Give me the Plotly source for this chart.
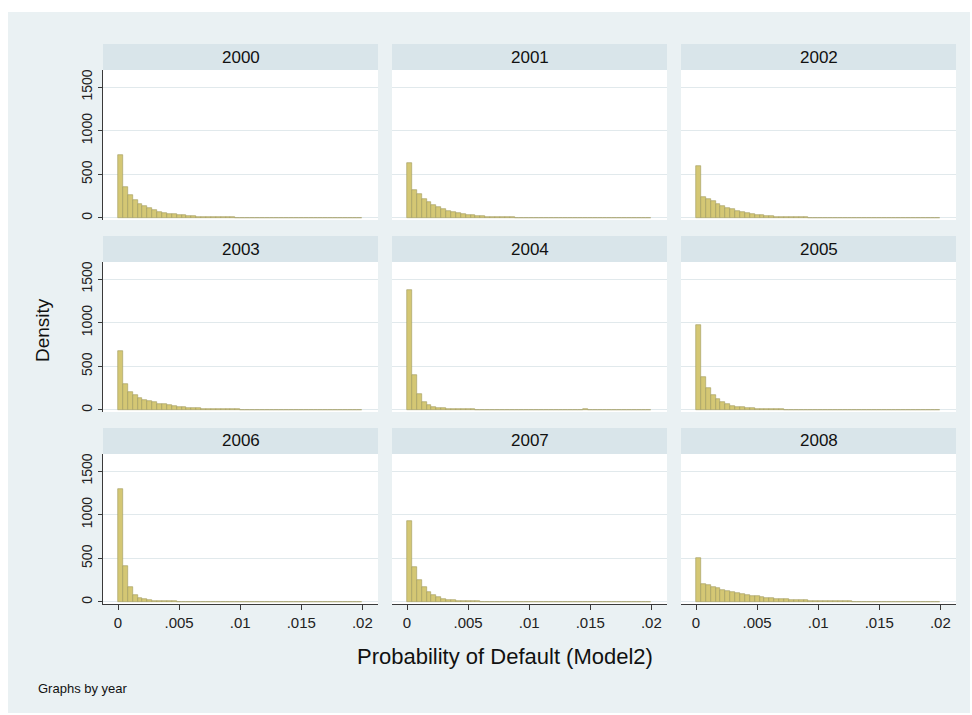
import plotly.graph_objects as go

# ---------------- data ----------------
years = ["2000", "2001", "2002", "2003", "2004", "2005", "2006", "2007", "2008"]
bin_width = 0.0004  # histogram bin width (probability units)

d2000 = [720, 350, 265, 205, 165, 135, 110, 90, 74, 61, 50, 42, 35, 29, 24, 20, 17, 14, 12, 10,
         9, 8, 7, 6, 5, 5, 4, 4, 3, 3, 3, 2, 2, 2, 2, 2, 1, 1, 1, 1, 1, 1, 1, 1, 1, 1, 1, 1, 1, 1]
d2001 = [625, 320, 270, 222, 182, 150, 122, 100, 82, 67, 54, 44, 36, 29, 24, 19, 15, 12, 10, 8,
         7, 6, 5, 4, 4, 3, 3, 2, 2, 2, 2, 1, 1, 1, 1, 1, 1, 1, 1, 1, 1, 1, 1, 1, 1, 1, 1, 1, 1, 1]
d2002 = [595, 240, 215, 190, 165, 140, 118, 98, 82, 68, 56, 46, 38, 31, 25, 20, 16, 13, 11, 9,
         8, 7, 6, 5, 4, 4, 3, 3, 2, 2, 2, 2, 1, 1, 1, 1, 1, 1, 1, 1, 1, 1, 1, 1, 1, 1, 1, 1, 1, 1]
d2003 = [670, 295, 210, 170, 142, 120, 102, 87, 74, 63, 54, 46, 39, 33, 28, 24, 20, 17, 14, 12,
         10, 9, 8, 7, 6, 5, 4, 4, 3, 3, 3, 2, 2, 2, 2, 2, 1, 1, 1, 1, 1, 1, 1, 1, 1, 1, 1, 1, 1, 1]
d2004 = [1375, 405, 178, 95, 58, 38, 27, 20, 15, 12, 10, 8, 7, 6, 5, 5, 4, 4, 3, 3,
         3, 3, 3, 4, 3, 3, 4, 3, 5, 4, 3, 4, 5, 4, 3, 4, 6, 4, 3, 5, 4, 3, 4, 5, 3, 4, 3, 2, 3, 2]
d2005 = [977, 380, 255, 175, 122, 88, 64, 48, 37, 29, 23, 18, 14, 11, 9, 8, 7, 6, 5, 5,
         4, 4, 3, 3, 3, 3, 3, 2, 2, 2, 2, 2, 2, 2, 2, 2, 3, 2, 2, 2, 2, 2, 2, 2, 2, 2, 1, 1, 1, 1]
d2006 = [1298, 418, 171, 82, 47, 30, 21, 15, 11, 9, 7, 6, 5, 4, 4, 3, 3, 3, 2, 2,
         2, 2, 2, 2, 2, 2, 2, 1, 1, 1, 1, 1, 1, 1, 1, 1, 1, 1, 1, 1, 1, 1, 1, 1, 1, 1, 1, 1, 1, 1]
d2007 = [930, 400, 250, 170, 115, 78, 54, 38, 28, 21, 16, 12, 10, 8, 6, 5, 4, 4, 3, 3,
         3, 2, 2, 2, 2, 2, 1, 1, 1, 1, 1, 1, 1, 1, 1, 1, 1, 1, 1, 1, 1, 1, 1, 1, 1, 1, 1, 1, 1, 1]
d2008 = [505, 210, 190, 172, 156, 141, 127, 114, 102, 91, 81, 72, 63, 56, 49, 43, 38, 34, 30, 27,
         24, 21, 19, 17, 15, 13, 12, 10, 9, 8, 7, 6, 5, 5, 4, 4, 3, 3, 3, 2, 2, 2, 2, 1, 1, 1, 1, 1, 1, 1]
densities = [d2000, d2001, d2002, d2003, d2004, d2005, d2006, d2007, d2008]

x_tickvals = [0, 0.005, 0.01, 0.015, 0.02]
x_ticktext = ["0", ".005", ".01", ".015", ".02"]
y_tickvals = [0, 500, 1000, 1500]
y_ticktext = ["0", "500", "1000", "1500"]

# ---------------- layout geometry (pixels) ----------------
W, H = 972, 715
ML, MR, MT, MB = 103, 16, 44, 111
PW = W - ML - MR
PH = H - MT - MB
col_x0 = [103, 392, 681]
col_w = 275
strip_top = [44, 236, 428]
strip_h = 26
plot_h = 150

def fx(px):
    return (px - ML) / PW

def fy(py):
    return (H - MB - py) / PH

BG = "#eaf1f3"
STRIP = "#d9e5ea"
BAR_FILL = "#d4c774"
BAR_LINE = "#a09a5e"
GRID = "#e1e9ec"
FONT = "Liberation Sans, Arial, sans-serif"

fig = go.Figure()
shapes = []
annotations = []

# outer grey graph region
shapes.append(dict(type="rect", xref="paper", yref="paper", layer="below",
                   x0=fx(8), x1=fx(970), y0=fy(713), y1=fy(12),
                   fillcolor=BG, line=dict(width=0)))

for i, yr in enumerate(years):
    r, c = divmod(i, 3)
    k = i + 1
    xa = "xaxis" if k == 1 else f"xaxis{k}"
    ya = "yaxis" if k == 1 else f"yaxis{k}"
    xr = "x" if k == 1 else f"x{k}"
    yr_ref = "y" if k == 1 else f"y{k}"

    x0p = col_x0[c]
    x1p = x0p + col_w
    ptop = strip_top[r] + strip_h
    pbot = ptop + plot_h

    dens = densities[i]
    centers = [bin_width * (j + 0.5) for j in range(len(dens))]
    fig.add_trace(go.Bar(x=centers, y=dens, width=bin_width, xaxis=xr, yaxis=yr_ref,
                         marker=dict(color=BAR_FILL, line=dict(color=BAR_LINE, width=0.6)),
                         showlegend=False, hoverinfo="x+y"))

    bottom_row = (r == 2)
    left_col = (c == 0)
    fig.layout[xa] = dict(domain=[fx(x0p), fx(x1p)], range=[-0.00123, 0.02128],
                          anchor=yr_ref, showgrid=False, zeroline=False,
                          showline=bottom_row, linecolor="#3a3a3a", linewidth=1,
                          ticks="outside" if bottom_row else "", ticklen=5, tickcolor="#3a3a3a",
                          tickvals=x_tickvals, ticktext=x_ticktext,
                          showticklabels=bottom_row,
                          tickfont=dict(family=FONT, size=15, color="#222"))
    fig.layout[ya] = dict(domain=[fy(pbot), fy(ptop)], range=[-23, 1695],
                          anchor=xr, showgrid=True, gridcolor=GRID, gridwidth=1,
                          zeroline=False,
                          showline=left_col, linecolor="#3a3a3a", linewidth=1,
                          ticks="outside" if left_col else "", ticklen=4, tickcolor="#3a3a3a",
                          tickvals=y_tickvals, ticktext=y_ticktext,
                          showticklabels=left_col, tickangle=-90,
                          tickfont=dict(family=FONT, size=14, color="#222"))

    # white plot region
    shapes.append(dict(type="rect", xref="paper", yref="paper", layer="below",
                       x0=fx(x0p), x1=fx(x1p), y0=fy(pbot), y1=fy(ptop),
                       fillcolor="white", line=dict(width=0)))
    # strip header
    shapes.append(dict(type="rect", xref="paper", yref="paper", layer="below",
                       x0=fx(x0p), x1=fx(x1p), y0=fy(ptop), y1=fy(strip_top[r]),
                       fillcolor=STRIP, line=dict(width=0)))
    annotations.append(dict(xref="paper", yref="paper", x=fx((x0p + x1p) / 2),
                            y=fy(strip_top[r] + strip_h / 2), text=yr, showarrow=False,
                            xanchor="center", yanchor="middle",
                            font=dict(family=FONT, size=17, color="#111")))

annotations.append(dict(xref="paper", yref="paper", x=fx(42), y=fy(330), text="Density",
                        showarrow=False, textangle=-90, xanchor="center", yanchor="middle",
                        font=dict(family=FONT, size=19, color="#111")))
annotations.append(dict(xref="paper", yref="paper", x=fx(505), y=fy(657),
                        text="Probability of Default (Model2)", showarrow=False,
                        xanchor="center", yanchor="middle",
                        font=dict(family=FONT, size=22, color="#111")))
annotations.append(dict(xref="paper", yref="paper", x=fx(36), y=fy(688),
                        text="Graphs by year", showarrow=False,
                        xanchor="left", yanchor="middle",
                        font=dict(family=FONT, size=13, color="#111")))

fig.update_layout(width=W, height=H, margin=dict(l=ML, r=MR, t=MT, b=MB),
                  paper_bgcolor="white", plot_bgcolor="rgba(0,0,0,0)",
                  shapes=shapes, annotations=annotations, bargap=0,
                  showlegend=False)

fig.write_html("out.html",
               config={"displayModeBar": False},
               post_script="document.body.style.margin='0';document.body.style.overflow='hidden';")
